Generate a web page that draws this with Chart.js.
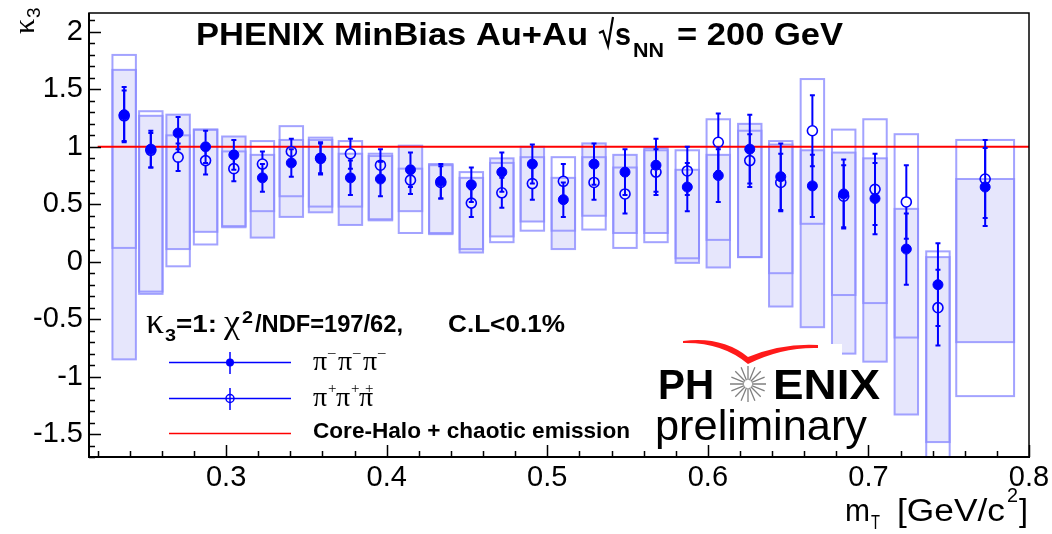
<!DOCTYPE html>
<html>
<head>
<meta charset="utf-8">
<script src="https://cdn.jsdelivr.net/npm/chart.js@4.4.0/dist/chart.umd.min.js"></script>
<style>
  html, body { margin: 0; padding: 0; background: #fff; }
  #wrap { width: 1052px; height: 534px; }
</style>
</head>
<body>
<div id="wrap"><canvas id="kappaChart"></canvas></div>
<script>
// bin centres in m_T [GeV/c^2] and half width of the systematic boxes
const mT = [0.2365, 0.2531, 0.2701, 0.2872, 0.3048, 0.3226, 0.3406, 0.3588, 0.3774, 0.3961,
            0.4148, 0.4337, 0.4527, 0.4717, 0.4907, 0.5100, 0.5291, 0.5484, 0.5677, 0.5872,
            0.6065, 0.6261, 0.6454, 0.6651, 0.6846, 0.7041, 0.7236, 0.7433, 0.7727];
const binHalfWidth = [0.0073, 0.0073, 0.0073, 0.0073, 0.0073, 0.0073, 0.0073, 0.0073, 0.0073, 0.0073,
                      0.0073, 0.0073, 0.0073, 0.0073, 0.0073, 0.0073, 0.0073, 0.0073, 0.0073, 0.0073,
                      0.0073, 0.0073, 0.0073, 0.0073, 0.0073, 0.0073, 0.0073, 0.0073, 0.018];

// pi- pi- pi-  (filled markers, filled systematic boxes)
const kMinus = [1.28, 0.98, 1.12, 1.00, 0.93, 0.73, 0.86, 0.90, 0.73, 0.72,
                0.80, 0.70, 0.67, 0.78, 0.85, 0.54, 0.85, 0.78, 0.84, 0.65,
                0.75, 0.98, 0.74, 0.66, 0.59, 0.55, 0.11, -0.20, 0.65];
const kMinusErr = [0.24, 0.16, 0.14, 0.14, 0.13, 0.12, 0.12, 0.14, 0.15, 0.15,
                   0.15, 0.15, 0.15, 0.17, 0.17, 0.15, 0.18, 0.20, 0.23, 0.21,
                   0.23, 0.30, 0.29, 0.27, 0.30, 0.31, 0.31, 0.36, 0.34];
const kMinusSysLo = [-0.85, -0.28, 0.11, 0.26, 0.31, 0.21, 0.39, 0.43, 0.32, 0.36,
                     0.44, 0.24, 0.08, 0.22, 0.35, 0.11, 0.40, 0.25, 0.25, -0.01,
                     -0.05, 0.04, -0.39, -0.57, -0.80, -0.87, -1.33, -1.57, -0.70];
const kMinusSysHi = [1.67, 1.27, 1.28, 1.15, 1.09, 0.93, 1.06, 1.06, 0.94, 0.92,
                     1.01, 0.84, 0.73, 0.90, 1.00, 0.73, 1.03, 0.93, 0.99, 0.80,
                     0.93, 1.20, 1.02, 0.97, 0.95, 0.90, 0.46, 0.04, 0.72];

// pi+ pi+ pi+  (open markers, open systematic boxes)
const kPlus = [1.27, 0.97, 0.91, 0.88, 0.81, 0.85, 0.96, 0.90, 0.94, 0.84,
               0.71, 0.69, 0.51, 0.60, 0.68, 0.70, 0.69, 0.59, 0.78, 0.79,
               1.04, 0.88, 0.69, 1.14, 0.57, 0.63, 0.52, -0.40, 0.72];
const kPlusErr = [0.22, 0.15, 0.12, 0.12, 0.11, 0.11, 0.11, 0.13, 0.13, 0.14,
                  0.12, 0.14, 0.12, 0.13, 0.14, 0.15, 0.15, 0.17, 0.20, 0.21,
                  0.25, 0.23, 0.25, 0.31, 0.27, 0.31, 0.32, 0.33, 0.34];
const kPlusSysLo = [0.12, -0.26, -0.04, 0.15, 0.30, 0.44, 0.57, 0.48, 0.48, 0.37,
                    0.25, 0.25, 0.11, 0.17, 0.27, 0.27, 0.28, 0.12, 0.17, 0.03,
                    0.19, 0.04, -0.10, 0.33, -0.29, -0.36, -0.66, -1.90, -1.17];
const kPlusSysHi = [1.80, 1.31, 1.10, 1.15, 0.96, 1.05, 1.18, 1.08, 1.05, 0.94,
                    0.81, 0.85, 0.78, 0.86, 0.91, 0.91, 0.91, 0.82, 0.97, 0.97,
                    1.24, 1.14, 1.05, 1.59, 1.15, 1.24, 1.11, 0.09, 1.06];

// core-halo expectation kappa3 = 1
const fitX = [0.22, 0.8];
const fitY = [1, 1];

// axis ranges and tick labels
const xRange = [0.2146, 0.8];
const yRange = [-1.70, 2.165];
const xTickValues = [0.3, 0.4, 0.5, 0.6, 0.7, 0.8];
const yTickValues = [-1.5, -1, -0.5, 0, 0.5, 1, 1.5, 2];

const BLUE = '#0000ff';
const BOX_LINE = 'rgba(140,140,255,0.8)';
const BOX_FILL = '#e6e6fc';
const SANS = '"Liberation Sans", Arial, Helvetica, sans-serif';
const SERIF = '"Liberation Serif", "DejaVu Serif", serif';

function fitText(ctx, text, x, y, w, font) {
  ctx.font = font;
  const m = ctx.measureText(text).width;
  ctx.save();
  ctx.translate(x, y);
  ctx.scale(w / m, 1);
  ctx.fillText(text, 0, 0);
  ctx.restore();
}

// systematic boxes, under everything
const sysBoxes = {
  id: 'sysBoxes',
  beforeDatasetsDraw(chart) {
    const { ctx, chartArea: a, scales: { x, y } } = chart;
    ctx.save();
    ctx.beginPath();
    ctx.rect(a.left, a.top, a.right - a.left, a.bottom - a.top);
    ctx.clip();
    mT.forEach((m, i) => {
      const x0 = x.getPixelForValue(m - binHalfWidth[i]);
      const x1 = x.getPixelForValue(m + binHalfWidth[i]);
      const y0 = y.getPixelForValue(kMinusSysHi[i]);
      const y1 = y.getPixelForValue(kMinusSysLo[i]);
      ctx.fillStyle = BOX_FILL;
      ctx.fillRect(x0, y0, x1 - x0, y1 - y0);
    });
    ctx.strokeStyle = BOX_LINE;
    ctx.lineWidth = 2;
    mT.forEach((m, i) => {
      const x0 = x.getPixelForValue(m - binHalfWidth[i]);
      const x1 = x.getPixelForValue(m + binHalfWidth[i]);
      [[kMinusSysLo[i], kMinusSysHi[i]], [kPlusSysLo[i], kPlusSysHi[i]]].forEach(([lo, hi]) => {
        const y0 = y.getPixelForValue(hi);
        const y1 = y.getPixelForValue(lo);
        ctx.strokeRect(x0, y0, x1 - x0, y1 - y0);
      });
    });
    ctx.restore();
  }
};

// statistical error bars, drawn after the red line but before the markers
const errorBars = {
  id: 'errorBars',
  beforeDatasetDraw(chart, args) {
    if (args.index !== 1) return;
    const { ctx, scales: { x, y } } = chart;
    const r = 5;
    ctx.save();
    ctx.strokeStyle = BLUE;
    ctx.lineWidth = 2;
    const bar = (m, v, e) => {
      const cx = x.getPixelForValue(m);
      const cy = y.getPixelForValue(v);
      const top = y.getPixelForValue(v + e);
      const bot = y.getPixelForValue(v - e);
      ctx.beginPath();
      ctx.moveTo(cx, top); ctx.lineTo(cx, cy - r);
      ctx.moveTo(cx, cy + r); ctx.lineTo(cx, bot);
      ctx.moveTo(cx - 2.5, top); ctx.lineTo(cx + 2.5, top);
      ctx.moveTo(cx - 2.5, bot); ctx.lineTo(cx + 2.5, bot);
      ctx.stroke();
    };
    mT.forEach((m, i) => {
      bar(m, kMinus[i], kMinusErr[i]);
      bar(m, kPlus[i], kPlusErr[i]);
    });
    ctx.restore();
  }
};

// ROOT style frame, ticks, title, legend, logo
const decorations = {
  id: 'decorations',
  afterDraw(chart) {
    const { ctx, chartArea: a, scales: { x, y } } = chart;
    ctx.save();
    ctx.textAlign = 'left';
    ctx.textBaseline = 'alphabetic';

    // logo backdrop (covers part of a box like the pasted image does)
    ctx.fillStyle = '#fff';
    ctx.fillRect(650, 344, 192, 108);

    // frame
    ctx.strokeStyle = '#000';
    ctx.lineWidth = 1.5;
    ctx.strokeRect(a.left, a.top, a.right - a.left, a.bottom - a.top);
    ctx.lineWidth = 2;
    ctx.beginPath();
    ctx.moveTo(a.left, a.top); ctx.lineTo(a.left, a.bottom + 1);
    ctx.moveTo(a.left - 1, a.bottom); ctx.lineTo(a.right + 1, a.bottom);
    ctx.stroke();

    // inside ticks
    ctx.lineWidth = 1.5;
    ctx.beginPath();
    for (let k = -17; k <= 21; k++) {
      const py = Math.round(y.getPixelForValue(k / 10)) + 0.5;
      const len = k % 5 === 0 ? 12 : 6;
      ctx.moveTo(a.left, py); ctx.lineTo(a.left + len, py);
    }
    for (let k = 11; k <= 40; k++) {
      const px = Math.round(x.getPixelForValue(k / 50)) + 0.5;
      const len = k % 5 === 0 ? 12 : 6;
      ctx.moveTo(px, a.bottom); ctx.lineTo(px, a.bottom - len);
    }
    ctx.stroke();

    ctx.fillStyle = '#000';
    // title
    fitText(ctx, 'PHENIX MinBias Au+Au', 196, 45, 392, 'bold 32px ' + SANS);
    ctx.lineWidth = 2.2;
    ctx.beginPath();
    ctx.moveTo(599, 33); ctx.lineTo(603, 31); ctx.lineTo(608, 46); ctx.lineTo(613, 17);
    ctx.stroke();
    fitText(ctx, 's', 615, 45, 16, 'bold 32px ' + SANS);
    fitText(ctx, 'NN', 633, 57, 31, 'bold 20px ' + SANS);
    fitText(ctx, '= 200 GeV', 677, 45, 166, 'bold 32px ' + SANS);

    // y axis title: kappa_3, rotated
    ctx.save();
    ctx.translate(34, 34);
    ctx.rotate(-Math.PI / 2);
    ctx.font = '30px ' + SERIF;
    ctx.fillText('\u03ba', 0, 0);
    ctx.font = '19px ' + SANS;
    ctx.fillText('3', 16, 6);
    ctx.restore();

    // x axis title
    fitText(ctx, 'm', 845, 521, 25, '31px ' + SANS);
    fitText(ctx, 'T', 871, 529, 9, '20px ' + SANS);
    fitText(ctx, '[GeV/c', 897, 521, 108, '31px ' + SANS);
    fitText(ctx, '2', 1007, 502, 11, '20px ' + SANS);
    fitText(ctx, ']', 1019, 521, 9, '31px ' + SANS);

    // fit result
    fitText(ctx, '\u03ba', 146, 333, 18, '36px ' + SERIF);
    fitText(ctx, '3', 165, 341, 11, 'bold 17px ' + SANS);
    fitText(ctx, '=1:', 176, 332, 41, 'bold 24px ' + SANS);
    fitText(ctx, '\u03c7', 224, 333, 16, '34px ' + SERIF);
    fitText(ctx, '2', 242, 323, 11, 'bold 17px ' + SANS);
    fitText(ctx, '/NDF=197/62,', 255, 332, 148, 'bold 24px ' + SANS);
    fitText(ctx, 'C.L<0.1%', 448, 332, 117, 'bold 24px ' + SANS);

    // legend
    const lx0 = 169, lx1 = 291, mx = 230;
    ctx.strokeStyle = BLUE;
    ctx.lineWidth = 1.5;
    ctx.beginPath();
    ctx.moveTo(lx0, 362.5); ctx.lineTo(lx1, 362.5);
    ctx.moveTo(mx, 352); ctx.lineTo(mx, 374);
    ctx.moveTo(lx0, 398.5); ctx.lineTo(lx1, 398.5);
    ctx.moveTo(mx, 388); ctx.lineTo(mx, 410);
    ctx.stroke();
    ctx.fillStyle = BLUE;
    ctx.beginPath(); ctx.arc(mx, 362.5, 4, 0, Math.PI * 2); ctx.fill();
    ctx.beginPath(); ctx.arc(mx, 398.5, 4, 0, Math.PI * 2); ctx.stroke();
    ctx.strokeStyle = '#ff0000';
    ctx.beginPath(); ctx.moveTo(lx0, 433.5); ctx.lineTo(lx1, 433.5); ctx.stroke();

    ctx.fillStyle = '#000';
    const piRow = (baseY, sign, xs, supOffset) => {
      xs.forEach((px, j) => {
        ctx.font = '28px ' + SERIF;
        ctx.fillText('\u03c0', px, baseY);
        ctx.font = '15px ' + SERIF;
        ctx.fillText(sign, px + supOffset[j], baseY - 13);
      });
    };
    piRow(370, '\u2013', [313, 338, 363], [15, 15, 15]);
    piRow(406, '+', [313, 336, 359], [15, 15, 6]);
    fitText(ctx, 'Core-Halo + chaotic emission', 313, 438, 317, 'bold 22px ' + SANS);

    // PHENIX preliminary logo
    ctx.fillStyle = '#ff1a1a';
    ctx.beginPath();
    ctx.moveTo(683, 341);
    ctx.quadraticCurveTo(722, 336, 748, 357);
    ctx.quadraticCurveTo(782, 343, 818, 345);
    ctx.lineTo(818, 348);
    ctx.quadraticCurveTo(782, 347, 748, 364);
    ctx.quadraticCurveTo(722, 342, 683, 343);
    ctx.closePath();
    ctx.fill();

    ctx.fillStyle = '#000';
    fitText(ctx, 'PH', 658, 399, 56, 'bold 43px ' + SANS);
    fitText(ctx, 'ENIX', 773, 399, 107, 'bold 43px ' + SANS);
    ctx.strokeStyle = '#808080';
    ctx.lineWidth = 1.3;
    ctx.beginPath();
    for (let k = 0; k < 16; k++) {
      const ang = k * Math.PI / 8;
      ctx.moveTo(748 + 4 * Math.cos(ang), 384 + 4 * Math.sin(ang));
      ctx.lineTo(748 + 18 * Math.cos(ang), 384 + 18 * Math.sin(ang));
    }
    ctx.stroke();
    fitText(ctx, 'preliminary', 655, 440, 212, '42px ' + SANS);

    ctx.restore();
  }
};

const ctx = document.getElementById('kappaChart').getContext('2d');
const chart = new Chart(ctx, {
  type: 'scatter',
  data: {
    datasets: [
      {
        label: 'Core-Halo + chaotic emission',
        data: fitX.map((v, i) => ({ x: v, y: fitY[i] })),
        showLine: true,
        borderColor: '#ff0000',
        borderWidth: 2,
        pointRadius: 0,
        order: 2
      },
      {
        label: '\u03c0-\u03c0-\u03c0-',
        data: mT.map((v, i) => ({ x: v, y: kMinus[i] })),
        pointStyle: 'circle',
        pointRadius: 5,
        backgroundColor: BLUE,
        borderColor: BLUE,
        borderWidth: 1,
        order: 1
      },
      {
        label: '\u03c0+\u03c0+\u03c0+',
        data: mT.map((v, i) => ({ x: v, y: kPlus[i] })),
        pointStyle: 'circle',
        pointRadius: 5,
        backgroundColor: 'rgba(255,255,255,0)',
        borderColor: BLUE,
        borderWidth: 1.6,
        order: 0
      }
    ]
  },
  options: {
    responsive: true,
    maintainAspectRatio: false,
    animation: false,
    devicePixelRatio: 1,
    layout: { padding: { top: 13, right: 23, bottom: 0, left: 0 } },
    plugins: {
      legend: { display: false },
      tooltip: { enabled: false }
    },
    scales: {
      x: {
        type: 'linear',
        min: xRange[0],
        max: xRange[1],
        grid: { display: false, drawTicks: false },
        border: { display: false },
        afterBuildTicks: s => { s.ticks = xTickValues.map(v => ({ value: v })); },
        afterFit: s => { s.height = 77; s.paddingLeft = 0; s.paddingRight = 0; },
        ticks: {
          color: '#000',
          font: { family: SANS, size: 29 },
          padding: 4,
          maxRotation: 0,
          autoSkip: false,
          callback: v => String(+v.toFixed(2))
        }
      },
      y: {
        type: 'linear',
        min: yRange[0],
        max: yRange[1],
        grid: { display: false, drawTicks: false },
        border: { display: false },
        afterBuildTicks: s => { s.ticks = yTickValues.map(v => ({ value: v })); },
        afterFit: s => { s.width = 89; s.paddingTop = 0; s.paddingBottom = 0; },
        ticks: {
          color: '#000',
          font: { family: SANS, size: 29 },
          padding: 6,
          autoSkip: false,
          callback: v => String(+v.toFixed(2))
        }
      }
    }
  },
  plugins: [sysBoxes, errorBars, decorations]
});
</script>
</body>
</html>
